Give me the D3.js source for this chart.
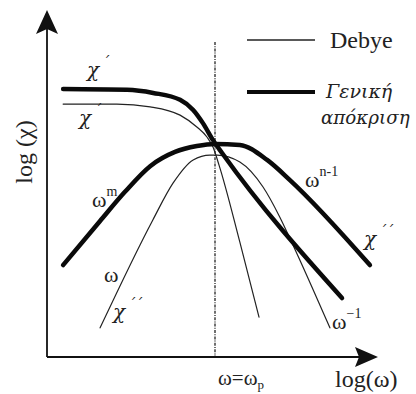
<!DOCTYPE html>
<html>
<head>
<meta charset="utf-8">
<script src="https://cdn.jsdelivr.net/npm/d3@7/dist/d3.min.js"></script>
<style>
  html, body { margin: 0; padding: 0; background: #fff; overflow: hidden; }
  svg { display: block; }
</style>
</head>
<body>
<script>
// Frequency response of the dielectric susceptibility, log(χ) against log(ω).
// Points are [log ω, log χ] in arbitrary decade units.
const peakLogW = 5.0;

// Debye relaxation (thin lines)
const debyeChiReal = [[0.48,7.29],[2.08,7.29],[3.07,7.21],[3.96,6.97],[4.46,6.63],[4.76,6.34],[4.94,6.05],[5.12,5.53],[5.74,3.31],[6.31,1.15]];
const debyeChiImag = [[1.58,0.84],[3.15,3.95],[3.75,5.01],[4.35,5.68],[4.85,5.82],[5.06,5.82],[5.74,5.62],[6.43,4.90],[6.93,4.03],[7.32,3.23],[8.42,0.84]];

// General (universal) response (thick lines)
const generalChiReal = [[0.48,7.72],[2.38,7.70],[3.16,7.61],[3.96,7.41],[4.35,7.12],[4.64,6.74],[4.94,6.25],[5.21,5.88],[8.78,1.70]];
const generalChiImag = [[0.48,2.65],[1.58,3.92],[2.32,4.76],[3.07,5.50],[3.81,5.91],[4.46,6.08],[5.00,6.14],[5.74,6.11],[6.55,5.68],[7.23,5.10],[9.61,2.65]];

const legendLabels = ["Debye", "Γενική", "απόκριση"];
const axisLabels = { x: "log(ω)", y: "log (χ)" };

const W = 416, H = 394;
const serif = "'Liberation Serif', 'DejaVu Serif', serif";
const serifItalic = "'DejaVu Serif', serif";
const x = d3.scaleLinear().domain([0, 10]).range([47, 383]);
const y = d3.scaleLinear().domain([0, 10]).range([357, 10]);

const svg = d3.select("body").append("svg").attr("width", W).attr("height", H)
  .attr("font-family", serif);

// axes with arrow heads
const axisW = 1.8;
svg.append("line").attr("x1", x(0)).attr("y1", y(0)).attr("x2", x(0)).attr("y2", 22)
  .attr("stroke", "#111").attr("stroke-width", axisW);
svg.append("line").attr("x1", x(0)).attr("y1", y(0)).attr("x2", 368).attr("y2", y(0))
  .attr("stroke", "#111").attr("stroke-width", axisW);
svg.append("path").attr("d", `M${x(0)},10 L58,34 L${x(0)},29 L36,34 Z`).attr("fill", "#111");
svg.append("path").attr("d", `M378,${y(0)} L355,347 L359,${y(0)} L355,367 Z`).attr("fill", "#111");

// dash-dot marker of the loss peak
svg.append("line").attr("x1", x(peakLogW)).attr("x2", x(peakLogW))
  .attr("y1", 42).attr("y2", y(0) - 1)
  .attr("stroke", "#333").attr("stroke-width", 1.4).attr("stroke-dasharray", "3,1.2,1,1.2");

const line = d3.line().x(d => x(d[0])).y(d => y(d[1])).curve(d3.curveMonotoneX);

function draw(data, width, color) {
  svg.append("path").datum(data).attr("d", line)
    .attr("fill", "none").attr("stroke", color).attr("stroke-width", width)
    .attr("stroke-linecap", "round").attr("stroke-linejoin", "round");
}
draw(debyeChiReal, 1.2, "#222");
draw(debyeChiImag, 1.2, "#222");
draw(generalChiReal, 4.5, "#0a0a0a");
draw(generalChiImag, 4.5, "#0a0a0a");

// legend
svg.append("line").attr("x1", 247).attr("x2", 315).attr("y1", 40).attr("y2", 40)
  .attr("stroke", "#222").attr("stroke-width", 1.3);
svg.append("line").attr("x1", 247).attr("x2", 315).attr("y1", 92).attr("y2", 92)
  .attr("stroke", "#0a0a0a").attr("stroke-width", 4.2);
svg.append("text").attr("x", 330).attr("y", 48).attr("font-size", 24).attr("fill", "#222").text(legendLabels[0]);
svg.append("text").attr("x", 326).attr("y", 98).attr("font-size", 19).attr("font-family", serifItalic)
  .attr("font-style", "italic").attr("fill", "#222").text(legendLabels[1]);
svg.append("text").attr("x", 321).attr("y", 124).attr("font-size", 18.3).attr("font-family", serifItalic)
  .attr("font-style", "italic").attr("fill", "#222").text(legendLabels[2]);

// axis titles
svg.append("text").attr("x", 335).attr("y", 387).attr("font-size", 24).attr("fill", "#222").text(axisLabels.x);
svg.append("text").attr("transform", "translate(32,152) rotate(-90)")
  .attr("text-anchor", "middle").attr("font-size", 24).attr("fill", "#222").text(axisLabels.y);

// ω = ωp under the peak
const wp = svg.append("text").attr("x", 218).attr("y", 385).attr("font-size", 21).attr("fill", "#222");
wp.append("tspan").text("ω=ω");
wp.append("tspan").attr("font-size", 13).attr("dy", 4).text("p");

// curve annotations
function chi(xp, yp, primes) {
  const t = svg.append("text").attr("x", xp).attr("y", yp).attr("font-size", 20)
    .attr("font-family", serifItalic).attr("font-style", "italic").attr("fill", "#222");
  t.append("tspan").text("χ");
  t.append("tspan").attr("font-size", 14).attr("dx", 3).attr("dy", -10).text(primes);
}
chi(87, 77, "΄");
chi(79, 125, "΄");
chi(113, 319, "΄΄");
chi(364, 246, "΄΄");

function omega(xp, yp, sup) {
  const t = svg.append("text").attr("x", xp).attr("y", yp).attr("font-size", 22).attr("fill", "#222");
  t.append("tspan").text("ω");
  if (sup) t.append("tspan").attr("font-size", 14).attr("dy", -11).text(sup);
}
omega(92, 207, "m");
omega(104, 282, null);
omega(305, 187, "n-1");
omega(332, 329, "−1");
</script>
</body>
</html>
